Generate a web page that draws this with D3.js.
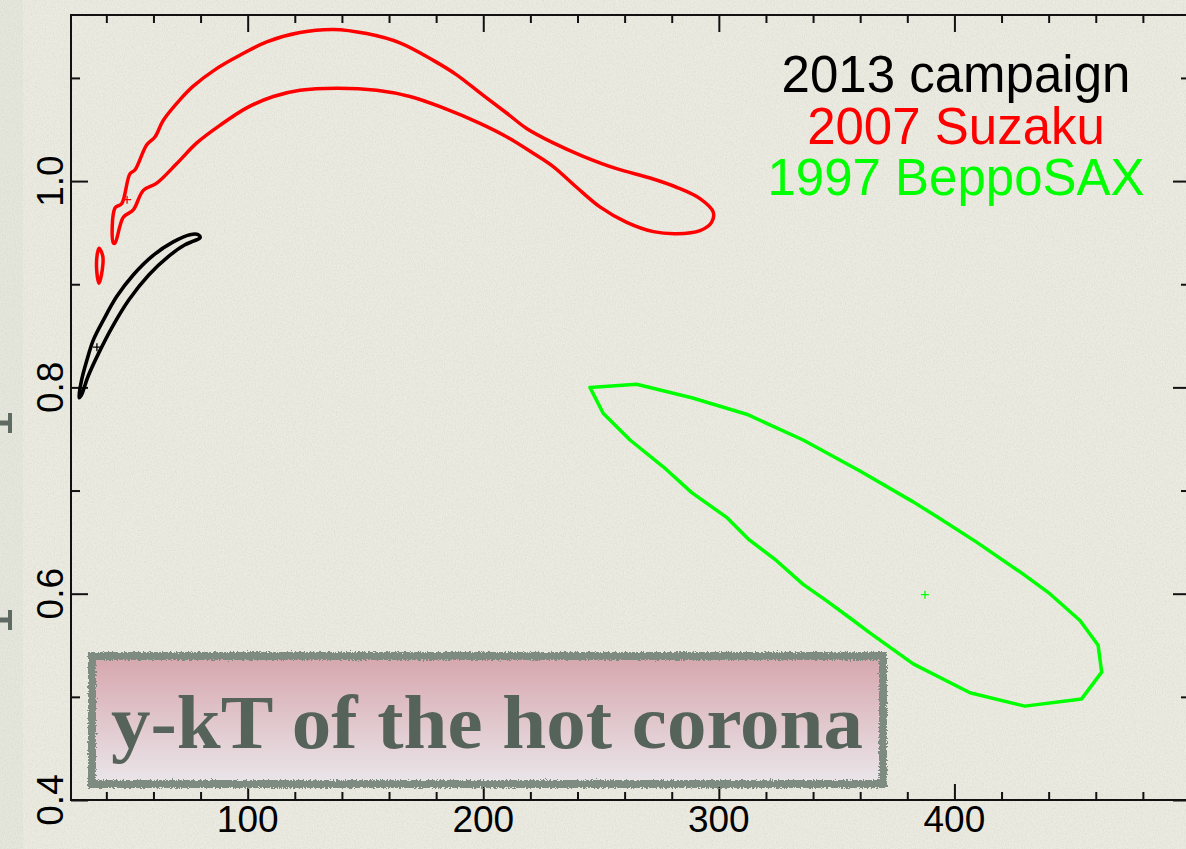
<!DOCTYPE html>
<html><head><meta charset="utf-8">
<script src="https://cdn.jsdelivr.net/npm/d3@7"></script>
<style>html,body{margin:0;padding:0;background:#ECEBE1;overflow:hidden}</style>
</head><body><svg id="c" width="1186" height="849"></svg>
<script>
// ---- data ----
const xDomain = [25, 500];
const yDomain = [0.4, 1.161];
const xMajorTicks = [100, 200, 300, 400];
const xMinorTicks = [40, 60, 80, 120, 140, 160, 180, 220, 240, 260, 280, 320, 340, 360, 380, 420, 440, 460, 480];
const yMajorTicks = [0.4, 0.6, 0.8, 1.0];
const yMinorTicks = [0.5, 0.7, 0.9, 1.1];
const xTickLabels = ["100", "200", "300", "400"];
const yTickLabels = ["0.4", "0.6", "0.8", "1.0"];

const legendLabels = ["2013 campaign", "2007 Suzaku", "1997 BeppoSAX"];
const seriesColors = ["#000000", "#FF0000", "#00FF00"];

// 2013 campaign confidence contour [kT, y]
const contour2013 = [
  [28.4,0.790],[29.5,0.807],[31.7,0.826],[34.5,0.846],[38.7,0.865],[44.4,0.888],[51.4,0.909],
  [59.9,0.928],[68.4,0.941],[75.5,0.948],[79.0,0.948],[79.8,0.945],[77.2,0.942],[73.2,0.938],
  [66.4,0.927],[58.0,0.909],[49.6,0.885],[42.6,0.859],[36.7,0.833],[32.3,0.811],[29.3,0.792]
];
const best2013 = [36.0, 0.839];

// 2007 Suzaku contours
const contour2007 = [
  [43.0,0.940],[43.7,0.974],[46.5,0.978],[50.0,1.007],[52.2,1.011],[57.1,1.035],[60.7,1.043],
  [64.2,1.059],[71.3,1.079],[76.9,1.092],[86.8,1.109],[96.7,1.122],[108.1,1.135],[122.2,1.144],
  [136.3,1.147],[150.5,1.143],[164.6,1.134],[178.8,1.117],[188.7,1.103],[200.0,1.083],[209.9,1.066],
  [218.4,1.051],[229.7,1.037],[242.4,1.024],[256.6,1.012],[270.8,1.003],[282.1,0.994],[292.0,0.983],
  [297.6,0.970],[296.9,0.960],[292.0,0.952],[282.1,0.949],[272.2,0.951],[260.9,0.960],[249.5,0.975],
  [239.6,0.994],[229.7,1.014],[221.2,1.027],[209.9,1.043],[198.6,1.056],[183.0,1.071],[168.9,1.082],
  [154.8,1.088],[137.8,1.090],[122.2,1.088],[110.9,1.082],[99.6,1.071],[88.2,1.054],[78.4,1.037],
  [69.9,1.017],[61.4,0.998],[55.7,0.991],[51.4,0.972],[47.2,0.965],[43.7,0.940]
];
const contour2007b = [
  [36.9,0.935],[38.5,0.927],[38.0,0.910],[36.9,0.901],[35.9,0.914],[36.2,0.930]
];
const best2007 = [48.8, 0.982];

// 1997 BeppoSAX contour
const contour1997 = [
  [245.3,0.800],[265.1,0.803],[288.5,0.790],[311.8,0.774],[335.8,0.749],[359.9,0.719],[382.5,0.689],
  [393.8,0.673],[409.4,0.650],[429.2,0.619],[440.5,0.600],[453.3,0.574],[461.0,0.550],[462.5,0.524],
  [454.0,0.498],[429.9,0.491],[406.6,0.504],[382.5,0.532],[364.1,0.562],[357.1,0.574],[345.8,0.593],
  [335.8,0.609],[324.5,0.632],[312.5,0.653],[303.3,0.674],[288.5,0.698],[276.4,0.723],[262.3,0.749],
  [250.9,0.775]
];
const best1997 = [387.5, 0.599];

const titleText = "y-kT of the hot corona";

// ---- drawing ----
const W = 1186, H = 849;
const svg = d3.select("#c");
const defs = svg.append("defs");

const noise = defs.append("filter").attr("id", "paper").attr("x", 0).attr("y", 0).attr("width", "100%").attr("height", "100%");
noise.append("feTurbulence").attr("type", "fractalNoise").attr("baseFrequency", "0.9 0.6").attr("numOctaves", 2).attr("seed", 4).attr("result", "n");
noise.append("feColorMatrix").attr("in", "n").attr("type", "matrix")
  .attr("values", "0 0 0 0 0.45  0 0 0 0 0.45  0 0 0 0 0.40  1.2 0 0 0 -0.45");

const rough = defs.append("filter").attr("id", "rough").attr("x", "-5%").attr("y", "-20%").attr("width", "110%").attr("height", "140%");
rough.append("feTurbulence").attr("type", "fractalNoise").attr("baseFrequency", "0.6").attr("numOctaves", 2).attr("seed", 2).attr("result", "t");
rough.append("feDisplacementMap").attr("in", "SourceGraphic").attr("in2", "t").attr("scale", 5).attr("xChannelSelector", "R").attr("yChannelSelector", "G");

const grad = defs.append("linearGradient").attr("id", "boxgrad").attr("x1", 0).attr("y1", 0).attr("x2", 0).attr("y2", 1);
grad.append("stop").attr("offset", "0%").attr("stop-color", "#D6A6AD");
grad.append("stop").attr("offset", "100%").attr("stop-color", "#EAE6EA");

// background
svg.append("rect").attr("width", W).attr("height", H).attr("fill", "#ECEBE1");
svg.append("rect").attr("width", 23).attr("height", H).attr("fill", "#E5E6DC");
svg.append("rect").attr("width", W).attr("height", H).attr("filter", "url(#paper)").attr("opacity", 0.35);

// cropped fragments at the far left edge of the slide
const frag = svg.append("g").attr("fill", "#5E6A62");
[423, 620].forEach(cy => {
  frag.append("rect").attr("x", 8).attr("y", cy - 10).attr("width", 4).attr("height", 20);
  frag.append("rect").attr("x", 0).attr("y", cy - 2.5).attr("width", 9).attr("height", 5);
});

const x = d3.scaleLinear().domain(xDomain).range([71, 1190]);
const y = d3.scaleLinear().domain(yDomain).range([800, 15]);

// frame
const axisColor = "#111";
const ax = svg.append("g").attr("stroke", axisColor).attr("stroke-width", 2).attr("fill", "none");
ax.append("rect").attr("x", x(xDomain[0])).attr("y", y(yDomain[1])).attr("width", x(xDomain[1]) - x(xDomain[0])).attr("height", y(yDomain[0]) - y(yDomain[1]));

function axisG(gen, tx, ty, values, size) {
  const g = svg.append("g").attr("transform", `translate(${tx},${ty})`)
    .call(gen.tickValues(values).tickSize(size).tickFormat(""));
  g.select(".domain").remove();
  g.selectAll("line").attr("stroke", axisColor).attr("stroke-width", 2);
}
axisG(d3.axisBottom(x), 0, y(yDomain[0]), xMajorTicks, -16);
axisG(d3.axisBottom(x), 0, y(yDomain[0]), xMinorTicks, -8);
axisG(d3.axisTop(x), 0, y(yDomain[1]), xMajorTicks, -17);
axisG(d3.axisTop(x), 0, y(yDomain[1]), xMinorTicks, -8);
axisG(d3.axisLeft(y), x(xDomain[0]), 0, yMajorTicks, -17);
axisG(d3.axisLeft(y), x(xDomain[0]), 0, yMinorTicks, -9);
axisG(d3.axisRight(y), x(xDomain[1]), 0, yMajorTicks, -17);
axisG(d3.axisRight(y), x(xDomain[1]), 0, yMinorTicks, -9);

// tick labels
const tickFont = "'Liberation Sans', Arial, Helvetica, sans-serif";
svg.append("g").selectAll("text").data(xMajorTicks).join("text")
  .attr("x", d => x(d)).attr("y", 832)
  .attr("text-anchor", "middle").attr("font-family", tickFont).attr("font-size", 37).attr("fill", "#000")
  .text((d, i) => xTickLabels[i]);
svg.append("g").selectAll("text").data(yMajorTicks).join("text")
  .attr("transform", d => `translate(63,${y(d)}) rotate(-90)`)
  .attr("text-anchor", "middle").attr("font-family", tickFont).attr("font-size", 37).attr("fill", "#000")
  .text((d, i) => yTickLabels[i]);

// contours
const smooth = d3.line().x(d => x(d[0])).y(d => y(d[1])).curve(d3.curveCatmullRomClosed.alpha(0.5));
const lin = d3.line().x(d => x(d[0])).y(d => y(d[1])).curve(d3.curveLinearClosed);
const cg = svg.append("g").attr("fill", "none").attr("stroke-linejoin", "round");
cg.append("path").attr("d", smooth(contour2013)).attr("stroke", seriesColors[0]).attr("stroke-width", 3.6);
cg.append("path").attr("d", smooth(contour2007)).attr("stroke", seriesColors[1]).attr("stroke-width", 3.5);
cg.append("path").attr("d", smooth(contour2007b)).attr("stroke", seriesColors[1]).attr("stroke-width", 3.5);
cg.append("path").attr("d", lin(contour1997)).attr("stroke", seriesColors[2]).attr("stroke-width", 3.5);

// best-fit crosses
[[best2013, 0], [best2007, 1], [best1997, 2]].forEach(([p, i]) => {
  const cx = x(p[0]), cy = y(p[1]);
  cg.append("path").attr("d", `M${cx - 4},${cy}H${cx + 4}M${cx},${cy - 4}V${cy + 4}`)
    .attr("stroke", seriesColors[i]).attr("stroke-width", 1.3);
});

// legend
svg.append("g").selectAll("text").data(legendLabels).join("text")
  .attr("x", 956).attr("y", (d, i) => 92 + i * 51.5)
  .attr("text-anchor", "middle").attr("font-family", tickFont).attr("font-size", 51)
  .attr("fill", (d, i) => seriesColors[i]).text(d => d);

// title box
const tb = svg.append("g");
tb.append("rect").attr("x", 92).attr("y", 656).attr("width", 791).attr("height", 128).attr("fill", "url(#boxgrad)");
tb.append("rect").attr("x", 92).attr("y", 656).attr("width", 791).attr("height", 128)
  .attr("fill", "none").attr("stroke", "#7E8B81").attr("stroke-width", 8).attr("filter", "url(#rough)");
tb.append("text").attr("x", 111).attr("y", 748)
  .attr("font-family", "'Liberation Serif', 'DejaVu Serif', serif").attr("font-weight", "bold")
  .attr("font-size", 76).attr("fill", "#56635A")
  .attr("textLength", 752).attr("lengthAdjust", "spacingAndGlyphs")
  .text(titleText);
</script></body></html>
